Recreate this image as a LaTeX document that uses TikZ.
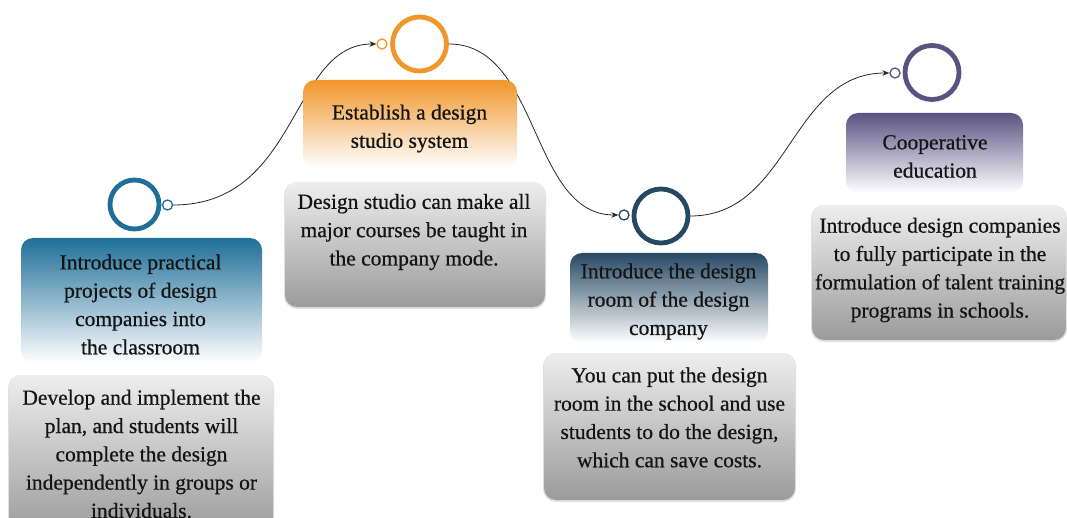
\documentclass[tikz,border=0pt]{standalone}
\usepackage{fontspec}
\setmainfont{Liberation Serif}[FakeBold=0.6]
\usetikzlibrary{arrows.meta}
\definecolor{stepA}{RGB}{31,111,152}
\definecolor{stepB}{RGB}{241,150,43}
\definecolor{stepC}{RGB}{38,73,99}
\definecolor{stepD}{RGB}{90,83,130}
\definecolor{descTop}{RGB}{238,238,238}
\definecolor{descBot}{RGB}{155,155,155}
\begin{document}
\begin{tikzpicture}[x=1pt,y=-1pt,
  ring/.style={circle, draw=#1, line width=4.8pt, inner sep=0pt, fill=white},
  dot/.style={circle, draw=#1, line width=1.3pt, fill=white, minimum size=10pt, inner sep=0pt},
  titlebox/.style={rectangle, rounded corners=12pt, top color=#1, bottom color=white, inner sep=0pt},
  descbox/.style={rectangle, rounded corners=12pt, top color=descTop, bottom color=descBot, inner sep=0pt},
  boxshade/.style={rectangle, rounded corners=13pt, fill=black!12, inner sep=0pt},
  txt/.style={font=\fontsize{21.5}{28.3}\selectfont, align=center, text=black!92, inner sep=0pt},
  link/.style={draw=black!85, line width=0.8pt, -{Stealth[length=7pt,width=5.5pt]}}
]
\useasboundingbox (0,0) rectangle (1067,518);

% timeline rings and their connector dots
\node[ring=stepA, minimum size=49pt] (ring1) at (134.5,204.5) {};
\node[dot=stepA] (dot1) at (167.5,205) {};
\node[ring=stepB, minimum size=54pt] (ring2) at (419.5,44) {};
\node[dot=stepB] (dot2) at (382,44) {};
\node[ring=stepC, minimum size=54pt] (ring3) at (661,216) {};
\node[dot=stepC] (dot3) at (624,215) {};
\node[ring=stepD, minimum size=54pt] (ring4) at (932,72.5) {};
\node[dot=stepD] (dot4) at (895,73) {};

% connectors
\draw[link] (dot1.east) .. controls (300,205) and (290,44) .. (dot2.west);
\draw[link] (ring2.east) .. controls (540,44) and (530,215) .. (dot3.west);
\draw[link] (ring3.east) .. controls (790,216) and (790,73) .. (dot4.west);

% soft edges under the description boxes
\node[boxshade, minimum width=266pt, minimum height=162pt] (s1) at (141,456) {};
\node[boxshade, minimum width=262pt, minimum height=127pt] (s2) at (415,245.5) {};
\node[boxshade, minimum width=253pt, minimum height=149pt] (s3) at (669.5,427.5) {};
\node[boxshade, minimum width=256pt, minimum height=137pt] (s4) at (939,273.5) {};

% step 1
\node[titlebox=stepA, minimum width=241pt, minimum height=125pt] (t1box) at (141.5,300.5) {};
\node[txt] (t1txt) at (140.5,304.5) {Introduce practical\\projects of design\\companies into\\the classroom};
\node[descbox, minimum width=264pt, minimum height=160pt] (d1box) at (141,455) {};
\node[txt] (d1txt) at (141.5,454) {Develop and implement the\\plan, and students will\\complete the design\\independently in groups or\\individuals.};

% step 2
\node[titlebox=stepB, minimum width=214pt, minimum height=88pt] (t2box) at (410,124) {};
\node[txt] (t2txt) at (409.5,128.5) {Establish a design\\studio system};
\node[descbox, minimum width=260pt, minimum height=125pt] (d2box) at (415,244.5) {};
\node[txt] (d2txt) at (414,232) {Design studio can make all\\major courses be taught in\\the company mode.};

% step 3
\node[titlebox=stepC, minimum width=198pt, minimum height=90pt] (t3box) at (669,298) {};
\node[txt] (t3txt) at (668.5,301.5) {Introduce the design\\room of the design\\company};
\node[descbox, minimum width=251pt, minimum height=147pt] (d3box) at (669.5,426.5) {};
\node[txt] (d3txt) at (669.5,417.5) {You can put the design\\room in the school and use\\students to do the design,\\which can save costs.};

% step 4
\node[titlebox=stepD, minimum width=177pt, minimum height=80pt] (t4box) at (934.5,153) {};
\node[txt] (t4txt) at (935,156.5) {Cooperative\\education};
\node[descbox, minimum width=254pt, minimum height=135pt] (d4box) at (939,272.5) {};
\node[txt] (d4txt) at (940,270) {Introduce design companies\\to fully participate in the\\formulation of talent training\\programs in schools.};
\end{tikzpicture}
\end{document}
